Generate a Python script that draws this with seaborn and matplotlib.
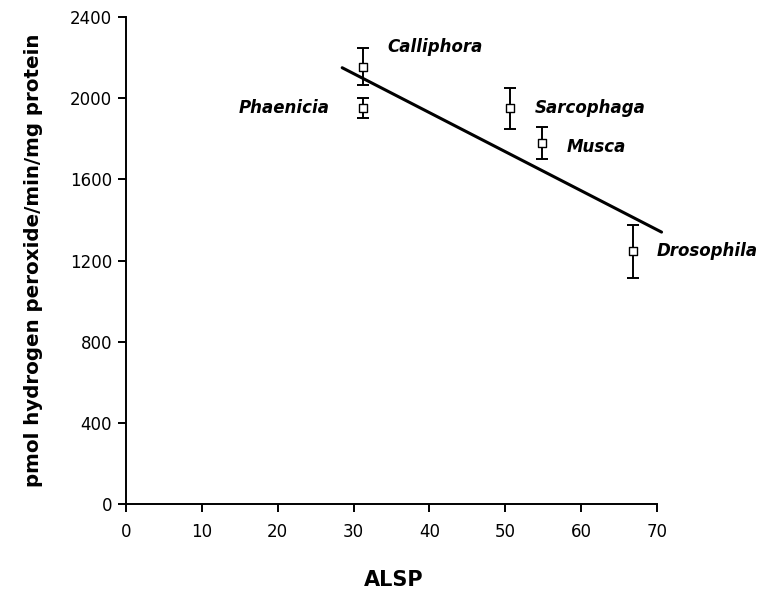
import matplotlib
matplotlib.use("Agg")
import matplotlib.pyplot as plt
import seaborn as sns
import numpy as np
import pandas as pd

# ---- data ----
species = ["Calliphora", "Phaenicia", "Sarcophaga", "Musca", "Drosophila"]
alsp = [31.2, 31.2, 50.6, 54.8, 66.9]
h2o2 = [2155, 1950, 1950, 1780, 1245]
err = [90, 50, 100, 80, 130]
line_x = [28.5, 70.6]
line_y = [2150, 1340]
x_ticks = [0, 10, 20, 30, 40, 50, 60, 70]
y_ticks = [0, 400, 800, 1200, 1600, 2000, 2400]

df = pd.DataFrame({"species": species, "ALSP": alsp, "rate": h2o2, "err": err})
line_df = pd.DataFrame({"ALSP": line_x, "rate": line_y})

sns.set_theme(style="ticks")
plt.rcParams["font.family"] = ["DejaVu Sans"]
plt.rcParams["text.color"] = "black"
plt.rcParams["axes.labelcolor"] = "black"

fig = plt.figure(figsize=(7.62, 5.98), dpi=100)
ax = fig.add_axes([126 / 762, 1 - 504 / 598, 531 / 762, 487 / 598])

# regression line
sns.lineplot(data=line_df, x="ALSP", y="rate", ax=ax, color="black",
             linewidth=2.2, clip_on=False, zorder=2)

# error bars
ax.errorbar(df["ALSP"], df["rate"], yerr=df["err"], fmt="none",
            ecolor="black", elinewidth=1.4, capsize=4.5, capthick=1.4, zorder=3)

# open square markers
sns.scatterplot(data=df, x="ALSP", y="rate", ax=ax, marker="s", s=34,
                facecolor="white", edgecolor="black", linewidth=1.0, zorder=4)

# species labels
offsets = {"Calliphora": (18, 14, "left"), "Phaenicia": (-24, 0, "right"),
           "Sarcophaga": (18, 0, "left"), "Musca": (18, -3, "left"),
           "Drosophila": (17, 0, "left")}
for name, x, y in zip(species, alsp, h2o2):
    dx, dy, ha = offsets[name]
    ax.annotate(name, (x, y), xytext=(dx, dy), textcoords="offset points",
                ha=ha, va="center", fontsize=12, fontweight="bold",
                fontstyle="italic", color="black", annotation_clip=False)

ax.set_xlim(0, 70)
ax.set_ylim(0, 2400)
ax.set_xticks(x_ticks)
ax.set_yticks(y_ticks)
ax.tick_params(axis="both", direction="out", length=6, width=1.4,
               labelsize=12, colors="black")
ax.tick_params(axis="x", pad=8)
ax.tick_params(axis="y", pad=4)
for side in ["left", "bottom"]:
    ax.spines[side].set_linewidth(1.4)
    ax.spines[side].set_color("black")
sns.despine(ax=ax)

ax.set_xlabel("ALSP", fontsize=15, fontweight="bold", color="black")
ax.set_ylabel("pmol hydrogen peroxide/min/mg protein", fontsize=14.3,
              fontweight="bold", color="black")
ax.xaxis.set_label_coords(0.505, -0.135)
ax.yaxis.set_label_coords(-0.156, 0.5)

fig.savefig("out.png", dpi=100)
